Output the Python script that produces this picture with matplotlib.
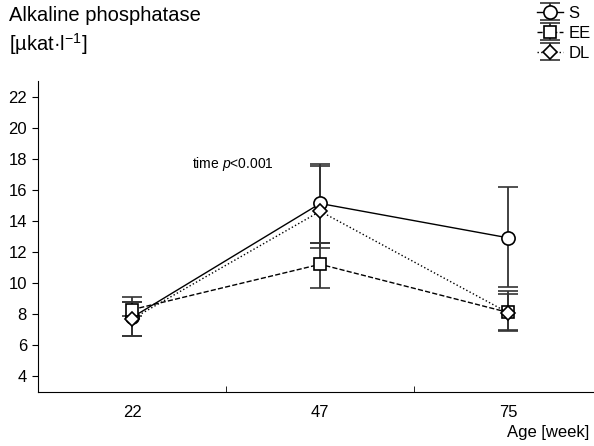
import matplotlib.pyplot as plt
import numpy as np

plt.rcParams['font.family'] = ['Liberation Sans', 'DejaVu Sans']
plt.rcParams['mathtext.fontset'] = 'custom'
plt.rcParams['mathtext.rm'] = 'Liberation Sans'
plt.rcParams['mathtext.it'] = 'Liberation Sans:italic'

ages = ['22', '47', '75']

# mean values per group
s_mean = [7.8, 15.13, 12.92]
ee_mean = [8.3, 11.22, 8.12]
dl_mean = [7.7, 14.63, 8.1]

# error bar ends (lower, upper)
s_low = [6.63, 12.28, 9.77]
s_high = [9.12, 17.68, 16.19]
ee_low = [7.9, 9.72, 6.95]
ee_high = [8.8, 12.6, 9.5]
dl_low = [6.63, 12.6, 7.0]
dl_high = [8.8, 17.52, 9.29]

x = np.arange(len(ages))

fig = plt.figure(figsize=(5.94, 4.46), dpi=100)
ax = fig.add_axes([0.064, 0.121, 0.95, 0.697])

groups = [
    ('S', s_mean, s_low, s_high, '-', 'o', 9.5),
    ('EE', ee_mean, ee_low, ee_high, '--', 's', 9),
    ('DL', dl_mean, dl_low, dl_high, ':', 'D', 7.5),
]

for label, mean, low, high, ls, marker, ms in groups:
    mean = np.array(mean)
    yerr = [mean - np.array(low), np.array(high) - mean]
    ax.errorbar(x, mean, yerr=yerr, fmt=marker, linestyle=ls, color='black',
                ecolor='#333333', elinewidth=1.3, capsize=7, capthick=1.3,
                lw=1.0, markersize=ms, markerfacecolor='white',
                markeredgecolor='black', markeredgewidth=1.2, label=label)

ax.set_xlim(-0.5, 2.5)
ax.set_ylim(3, 23)
ax.set_yticks(range(4, 23, 2))
ax.set_xticks(x)
ax.set_xticklabels(ages)
ax.set_xticks([0.5, 1.5], minor=True)
ax.tick_params(axis='x', which='major', length=0, labelsize=12, pad=9)
ax.tick_params(axis='x', which='minor', direction='in', length=4)
ax.tick_params(axis='y', direction='out', length=4, labelsize=12, pad=4)

for side in ['top', 'right']:
    ax.spines[side].set_visible(False)

ax.text(0.32, 17.4, 'time $\\it{p}$<0.001', fontsize=10)

fig.text(0.015, 0.965, 'Alkaline phosphatase', fontsize=14.5, va='center')
fig.text(0.015, 0.902, '[µkat·l$^{-1}$]', fontsize=14.5, va='center')
fig.text(0.992, 0.02, 'Age [week]', fontsize=12, ha='right')

fig.legend(loc='upper right', bbox_to_anchor=(1.0, 0.995), frameon=False,
           fontsize=12, handlelength=1.6, handletextpad=0.3,
           labelspacing=0.3, borderaxespad=0.0, borderpad=0.2)

fig.savefig('out.png', dpi=100)
